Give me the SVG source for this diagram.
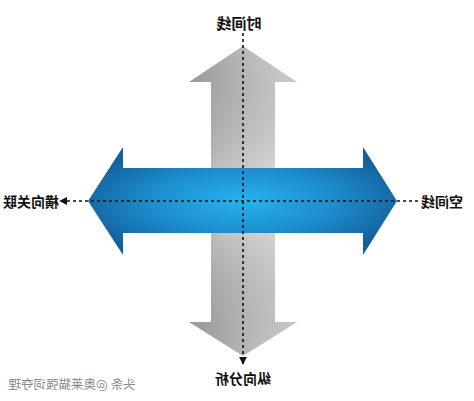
<svg xmlns="http://www.w3.org/2000/svg" width="474" height="401" viewBox="0 0 474 401">
<style>
.lbl{font-family:"Noto Sans CJK SC","Noto Sans",sans-serif;font-weight:bold;fill:#111;text-anchor:middle}
.wm{font-family:"Noto Sans CJK SC","Noto Sans",sans-serif;fill:#888;text-anchor:middle}
.dash{stroke:#111;stroke-width:1.6;stroke-dasharray:3 3;fill:none}
</style>
<defs>
<linearGradient id="gray" x1="0" y1="0" x2="1" y2="0">
<stop offset="0" stop-color="#a9a9a9"/>
<stop offset="0.6" stop-color="#cfcfcf"/>
<stop offset="1" stop-color="#e2e2e2"/>
</linearGradient>
<linearGradient id="grayV" x1="0" y1="0" x2="0" y2="1">
<stop offset="0" stop-color="#000" stop-opacity="0.08"/>
<stop offset="0.5" stop-color="#fff" stop-opacity="0.35"/>
<stop offset="1" stop-color="#000" stop-opacity="0.1"/>
</linearGradient>
<radialGradient id="blue" cx="0.5" cy="0.5" r="0.55">
<stop offset="0" stop-color="#27b2f0"/>
<stop offset="0.55" stop-color="#1d8ccc"/>
<stop offset="1" stop-color="#14609c"/>
</radialGradient>
<marker id="ah" viewBox="0 0 10 10" refX="9" refY="5" markerWidth="5" markerHeight="5" orient="auto">
<path d="M0 0L10 5L0 10z" fill="#111"/>
</marker>
</defs>
<rect width="474" height="401" fill="#fff"/>
<g id="vertical-arrow">
<path d="M243 46L297 82L275 82L275 322L297 322L243 356L189 322L211 322L211 82L189 82Z" fill="url(#gray)"/>
<path d="M243 46L297 82L275 82L275 322L297 322L243 356L189 322L211 322L211 82L189 82Z" fill="url(#grayV)"/>
</g>
<g id="horizontal-arrow">
<path d="M88 201L123 147L123 168L363 168L363 147L397 201L363 255L363 233L123 233L123 255Z" fill="url(#blue)"/>
</g>
<g id="connectors">
<line class="dash" x1="243" y1="33" x2="243" y2="364" marker-end="url(#ah)"/>
<line class="dash" x1="418" y1="201" x2="60" y2="201" marker-end="url(#ah)"/>
</g>
<g id="label-top"><text class="lbl" font-size="15" transform="translate(239,29) scale(-1,1)">时间线</text></g>
<g id="label-left"><text class="lbl" font-size="14" transform="translate(31,207) scale(-1,1)">横向关联</text></g>
<g id="label-right"><text class="lbl" font-size="14" transform="translate(442,207) scale(-1,1)">空间线</text></g>
<g id="label-bottom"><text class="lbl" font-size="14" transform="translate(243,384) scale(-1,1)">纵向分析</text></g>
<g id="watermark"><text class="wm" font-size="12.5" transform="translate(72,389) scale(-1,1)">头条 @奥莱猫强词夺理</text></g>
</svg>
